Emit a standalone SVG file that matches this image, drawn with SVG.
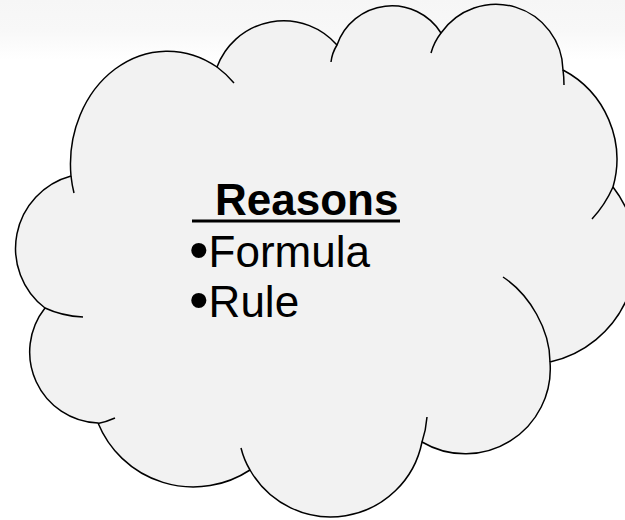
<svg xmlns="http://www.w3.org/2000/svg" width="625" height="520" viewBox="0 0 625 520">
  <defs>
    <linearGradient id="topfade" x1="0" y1="0" x2="0" y2="1">
      <stop offset="0" stop-color="#f6f6f6"/>
      <stop offset="0.5" stop-color="#f8f8f8"/>
      <stop offset="1" stop-color="#ffffff"/>
    </linearGradient>
  </defs>
  <style>
    .outline { fill: #f2f2f2; stroke: #000000; stroke-width: 1.5; stroke-linejoin: round; }
    .tail { fill: none; stroke: #000000; stroke-width: 1.5; stroke-linecap: butt; }
    .txt { font-family: "Liberation Sans", Arial, sans-serif; font-size: 44px; fill: #000000; }
    .bold { font-weight: bold; }
    .bul { font-size: 56px; }
  </style>
  <rect x="0" y="0" width="625" height="520" fill="#ffffff"/>
  <rect x="0" y="0" width="625" height="60" fill="url(#topfade)"/>
  <g id="connectors"/>
  <g id="cloud">
    <path class="outline" d="M71,176 A97,113 0 0 1 217,67 A71,71 0 0 1 337,45 A58,58 0 0 1 441,33 A67,67 0 0 1 563,70 A101,101 0 0 1 613,187 A110,110 0 0 1 550,362 A85,85 0 0 1 422,442 A93,93 0 0 1 250,470 A103,103 0 0 1 98,423 A71,71 0 0 1 45,308 A75,75 0 0 1 71,176 Z"/>
    <path class="tail" d="M71,176 A97,113 0 0 0 74,193"/>
    <path class="tail" d="M217,67 A97,113 0 0 1 234,83"/>
    <path class="tail" d="M337,45 Q332,53 331,62"/>
    <path class="tail" d="M441,33 Q434,42 431,53"/>
    <path class="tail" d="M563,70 Q564,77 564,85"/>
    <path class="tail" d="M613,187 Q605,205 592,219"/>
    <path class="tail" d="M550,362 C550,330 530,295 503,277"/>
    <path class="tail" d="M422,442 Q426,430 427,417"/>
    <path class="tail" d="M250,470 Q244,460 241,448"/>
    <path class="tail" d="M98,423.5 Q106,422 115,418"/>
    <path class="tail" d="M45,308 Q62,316 83,317"/>
    <text class="txt bold" x="215" y="214.5">Reasons</text>
    <line x1="192" y1="221" x2="400" y2="221" stroke="#000000" stroke-width="3"/>
    <text class="txt" x="189" y="267"><tspan class="bul" dy="2">•</tspan><tspan dy="-2">Formula</tspan></text>
    <text class="txt" x="189" y="317"><tspan class="bul" dy="2">•</tspan><tspan dy="-2">Rule</tspan></text>
  </g>
</svg>
